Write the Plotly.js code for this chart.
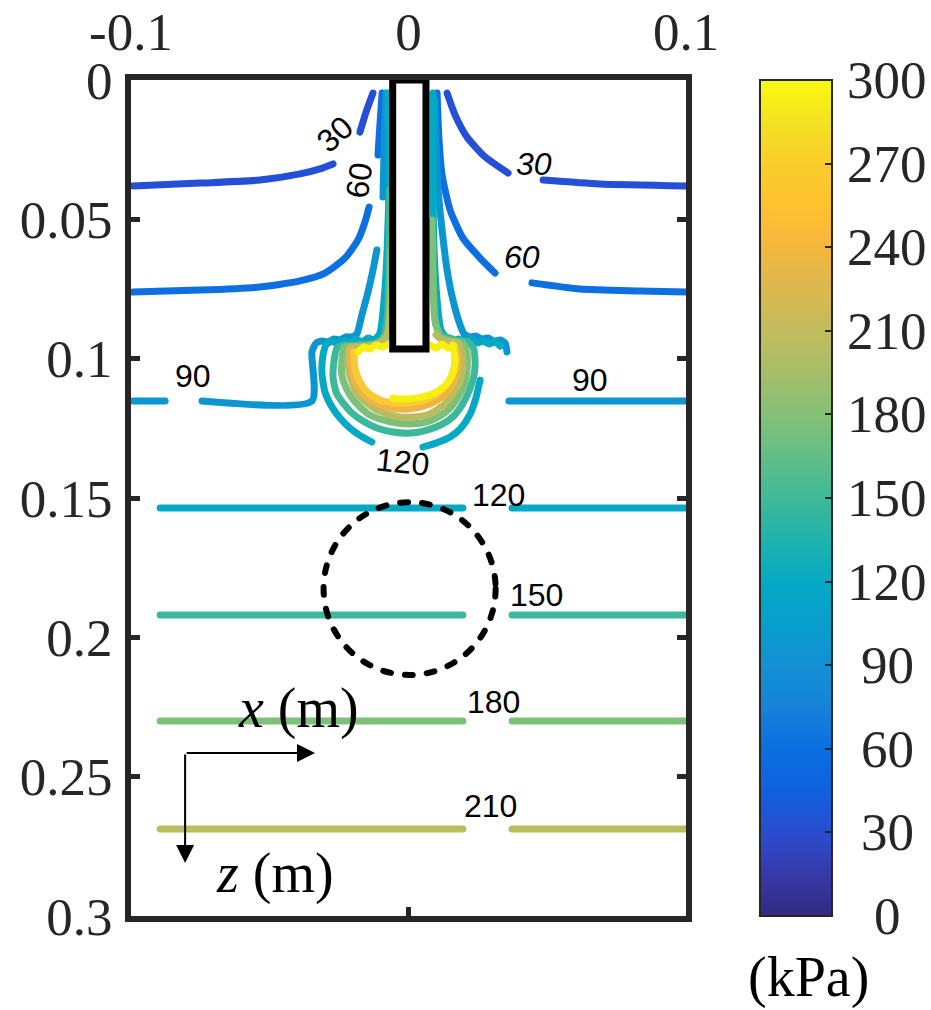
<!DOCTYPE html>
<html>
<head>
<meta charset="utf-8">
<script src="https://cdn.plot.ly/plotly-3.0.1.min.js"></script>
<style>
html,body{margin:0;padding:0;background:#fff;}
#chart .js-line{stroke-linecap:round;stroke-linejoin:round;}
#chart .shapelayer path{stroke-linecap:round;}
</style>
</head>
<body>
<div id="chart" style="width:931px;height:1010px;"></div>
<script>
// ---------- axes / ticks ----------
const xTickVals = [-0.1, 0, 0.1];
const xTickText = ['-0.1', '0', '0.1'];
const zTickVals = [0, 0.05, 0.1, 0.15, 0.2, 0.25, 0.3];
const zTickText = ['0', '0.05', '0.1', '0.15', '0.2', '0.25', '0.3'];
const cbTickVals = [0, 30, 60, 90, 120, 150, 180, 210, 240, 270, 300];
const cbMin = 0, cbMax = 300;

// ---------- contour levels (kPa) ----------
const levels = [30, 60, 90, 120, 150, 180, 210, 240, 270, 300];

// ---------- contour line pieces (x in m, z in m) ----------
// 30 kPa
const c30a_x = [-0.0993, -0.0751, -0.0535, -0.0391, -0.0319, -0.0272];
const c30a_z = [0.0380, 0.0370, 0.0359, 0.0337, 0.0319, 0.0301];
const c30b_x = [-0.0175, -0.0153, -0.0128];
const c30b_z = [0.0187, 0.0115, 0.0047];
const c30c_x = [0.0139, 0.0168, 0.0211, 0.0276, 0.0359];
const c30c_z = [0.0047, 0.0126, 0.0205, 0.0276, 0.0334];
const c30d_x = [0.0485, 0.0690, 0.1];
const c30d_z = [0.0359, 0.0373, 0.0380];
// 60 kPa
const c60a_x = [-0.0993, -0.0751, -0.0535, -0.0391, -0.0301, -0.0229, -0.0182, -0.0157, -0.0142];
const c60a_z = [0.0761, 0.0754, 0.0743, 0.0721, 0.0693, 0.0639, 0.0574, 0.0510, 0.0456];
const c60b_x = [-0.0110, -0.0103, -0.0095];
const c60b_z = [0.0269, 0.0161, 0.0047];
const c60c_x = [0.0103, 0.0110, 0.0121, 0.0150, 0.0196, 0.0258, 0.0312];
const c60c_z = [0.0047, 0.0215, 0.0341, 0.0467, 0.0567, 0.0639, 0.0693];
const c60d_x = [0.0445, 0.0618, 0.0834, 0.1];
const c60d_z = [0.0728, 0.0750, 0.0757, 0.0761];
// 90 kPa
const c90a_x = [-0.0993, -0.0877];
const c90a_z = [0.1152, 0.1152];
const c90b_x = [-0.0744, -0.0348, -0.0348, -0.0333, -0.0312, -0.0290, -0.0268, -0.0247, -0.0225, -0.0204, -0.0186, -0.0168, -0.0146, -0.0128, -0.0114];
const c90b_z = [0.1152, 0.1152, 0.0976, 0.0944, 0.0937, 0.0940, 0.0929, 0.0933, 0.0922, 0.0922, 0.0911, 0.0843, 0.0761, 0.0682, 0.0610];
const c90c_x = [-0.0092, -0.0088, -0.0081];
const c90c_z = [0.0420, 0.0251, 0.0047];
const c90d_x = [0.0095, 0.0099, 0.0106, 0.0121, 0.0139, 0.0160, 0.0186, 0.0200, 0.0222, 0.0243, 0.0265, 0.0286, 0.0308, 0.0330, 0.0348, 0.0355];
const c90d_z = [0.0072, 0.0215, 0.0384, 0.0538, 0.0682, 0.0789, 0.0879, 0.0911, 0.0922, 0.0919, 0.0929, 0.0926, 0.0937, 0.0933, 0.0944, 0.0976];
const c90e_x = [0.0362, 0.1];
const c90e_z = [0.1152, 0.1152];
// 120 kPa
const c120a_x = [-0.0895, 0.0196];
const c120a_z = [0.1536, 0.1536];
const c120b_x = [0.0373, 0.1];
const c120b_z = [0.1536, 0.1536];
const c120c_x = [-0.0074, -0.0070, -0.0077, -0.0088, -0.0103, -0.0124, -0.0146, -0.0168, -0.0189, -0.0211, -0.0232, -0.0254, -0.0276, -0.0297, -0.0308, -0.0312, -0.0301, -0.0276, -0.0247, -0.0211, -0.0171, -0.0132];
const c120c_z = [0.0047, 0.0323, 0.0610, 0.0789, 0.0908, 0.0933, 0.0926, 0.0940, 0.0929, 0.0944, 0.0933, 0.0947, 0.0937, 0.0951, 0.0987, 0.1051, 0.1120, 0.1173, 0.1213, 0.1249, 0.1278, 0.1299];
const c120d_x = [0.0052, 0.0099, 0.0150, 0.0189, 0.0222, 0.0243, 0.0258];
const c120d_z = [0.1317, 0.1303, 0.1281, 0.1249, 0.1199, 0.1141, 0.1077];
const c120e_x = [0.0088, 0.0088, 0.0092, 0.0103, 0.0117, 0.0139, 0.0160, 0.0182, 0.0204, 0.0225, 0.0247, 0.0268, 0.0290, 0.0312, 0.0330];
const c120e_z = [0.0047, 0.0359, 0.0610, 0.0789, 0.0897, 0.0926, 0.0937, 0.0929, 0.0940, 0.0933, 0.0944, 0.0937, 0.0947, 0.0940, 0.0955];
// 150 kPa
const c150a_x = [-0.0895, 0.0196];
const c150a_z = [0.1920, 0.1920];
const c150b_x = [0.0373, 0.1];
const c150b_z = [0.1920, 0.1920];
const c150c_x = [-0.0067, -0.0070, -0.0077, -0.0092, -0.0117, -0.0146, -0.0175, -0.0204, -0.0232, -0.0258, -0.0268, -0.0272, -0.0261, -0.0236, -0.0204, -0.0164, -0.0114, -0.0056, 0.0005, 0.0067, 0.0117, 0.0160, 0.0193, 0.0218, 0.0236, 0.0240, 0.0232, 0.0207, 0.0178, 0.0150, 0.0121, 0.0099, 0.0092, 0.0088];
const c150c_z = [0.0395, 0.0646, 0.0861, 0.0926, 0.0944, 0.0951, 0.0947, 0.0955, 0.0951, 0.0962, 0.1005, 0.1066, 0.1120, 0.1159, 0.1195, 0.1224, 0.1249, 0.1263, 0.1267, 0.1256, 0.1238, 0.1209, 0.1166, 0.1116, 0.1059, 0.1005, 0.0958, 0.0937, 0.0937, 0.0926, 0.0919, 0.0879, 0.0789, 0.0574];
// 180 kPa
const c180a_x = [-0.0895, 0.0196];
const c180a_z = [0.2300, 0.2300];
const c180b_x = [0.0373, 0.1];
const c180b_z = [0.2300, 0.2300];
const c180c_x = [-0.0063, -0.0067, -0.0074, -0.0092, -0.0121, -0.0150, -0.0178, -0.0211, -0.0232, -0.0240, -0.0240, -0.0225, -0.0204, -0.0175, -0.0139, -0.0092, -0.0041, 0.0013, 0.0067, 0.0114, 0.0150, 0.0178, 0.0200, 0.0211, 0.0211, 0.0196, 0.0168, 0.0139, 0.0114, 0.0095, 0.0088, 0.0085];
const c180c_z = [0.0610, 0.0789, 0.0897, 0.0933, 0.0947, 0.0951, 0.0955, 0.0955, 0.0958, 0.1005, 0.1059, 0.1105, 0.1141, 0.1173, 0.1202, 0.1220, 0.1231, 0.1234, 0.1227, 0.1206, 0.1177, 0.1138, 0.1094, 0.1041, 0.0980, 0.0944, 0.0937, 0.0933, 0.0919, 0.0861, 0.0718, 0.0502];
// 210 kPa
const c210a_x = [-0.0895, 0.0196];
const c210a_z = [0.2688, 0.2688];
const c210b_x = [0.0373, 0.1];
const c210b_z = [0.2688, 0.2688];
const c210c_x = [-0.0059, -0.0067, -0.0081, -0.0110, -0.0146, -0.0182, -0.0211, -0.0218, -0.0214, -0.0200, -0.0182, -0.0150, -0.0114, -0.0074, -0.0031, 0.0016, 0.0067, 0.0106, 0.0139, 0.0164, 0.0186, 0.0196, 0.0193, 0.0178, 0.0150, 0.0121, 0.0099];
const c210c_z = [0.0736, 0.0861, 0.0926, 0.0947, 0.0955, 0.0958, 0.0962, 0.1005, 0.1051, 0.1094, 0.1130, 0.1159, 0.1184, 0.1199, 0.1209, 0.1209, 0.1202, 0.1181, 0.1155, 0.1120, 0.1077, 0.1030, 0.0980, 0.0944, 0.0940, 0.0933, 0.0915];
// 240 kPa
const c240a_x = [-0.0207, -0.0207, -0.0193, -0.0168, -0.0132, -0.0085, -0.0031, 0.0023, 0.0077, 0.0121, 0.0153, 0.0171, 0.0178, 0.0175];
const c240a_z = [0.0969, 0.1023, 0.1077, 0.1120, 0.1152, 0.1170, 0.1181, 0.1177, 0.1163, 0.1138, 0.1102, 0.1059, 0.1012, 0.0969];
// 270 kPa
const c270a_x = [-0.0196, -0.0193, -0.0175, -0.0146, -0.0103, -0.0049, 0.0005, 0.0059, 0.0103, 0.0139, 0.0160, 0.0168, 0.0164];
const c270a_z = [0.0976, 0.1033, 0.1084, 0.1123, 0.1148, 0.1159, 0.1159, 0.1148, 0.1127, 0.1091, 0.1048, 0.1005, 0.0969];
// 300 kPa
const c300a_x = [0.0160, 0.0168, 0.0164, 0.0146, 0.0117, 0.0077, 0.0031, -0.0020, -0.0056];
const c300a_z = [0.0951, 0.0998, 0.1041, 0.1080, 0.1109, 0.1130, 0.1141, 0.1145, 0.1141];
const c300b_x = [-0.0182, -0.0160, -0.0139, -0.0117, -0.0095, -0.0067];
const c300b_z = [0.0976, 0.0958, 0.0965, 0.0951, 0.0958, 0.0947];
const c300c_x = [0.0077, 0.0099, 0.0121, 0.0142, 0.0164];
const c300c_z = [0.0951, 0.0962, 0.0947, 0.0962, 0.0955];

// ---------- contour labels ----------
const labelText = ['30', '60', '30', '60', '90', '90', '120', '120', '150', '180', '210'];
const labelX = [-0.0265, -0.0178, 0.0452, 0.0409, -0.0777, 0.0654, -0.0023, 0.0323, 0.0463, 0.0305, 0.0294];
const labelZ = [0.0194, 0.0359, 0.0301, 0.0635, 0.1062, 0.1077, 0.1371, 0.1489, 0.1848, 0.2232, 0.2605];

// ---------- pile, void (circle), axis arrows ----------
const pileX = [-0.0057, 0.0063];
const pileZ = [0, 0.0965];
const voidCenter = [0.0004, 0.1825];
const voidRadius = 0.031;
const arrowOrigin = [-0.0805, 0.2415];
const arrowTipX = -0.0337;
const arrowTipZ = 0.2810;
const xLabelPos = [-0.0395, 0.2254];
const zLabelPos = [-0.0481, 0.2846];

// ---------- styling ----------
const levelColors = {
  30: '#2350d6', 60: '#0e6fe0', 90: '#0b96d2', 120: '#06a9c4', 150: '#3bb99a',
  180: '#7dc07a', 210: '#b9bd5f', 240: '#efb445', 270: '#fbc934', 300: '#f7f00f'
};
const parula = [
  [0, '#332a80'], [0.05, '#363aa8'], [0.1, '#2b4ccf'], [0.15, '#0f61de'], [0.2, '#0b6fe0'],
  [0.25, '#1682d8'], [0.3, '#1291d3'], [0.35, '#089ecc'], [0.4, '#06a9c3'], [0.45, '#1fb3ad'],
  [0.5, '#3fb998'], [0.55, '#62be86'], [0.6, '#85c077'], [0.65, '#a6be69'], [0.7, '#c1bc5e'],
  [0.75, '#dbb84f'], [0.8, '#f4b73d'], [0.85, '#fec131'], [0.9, '#facd2b'], [0.95, '#f3e222'],
  [1, '#f9fb0e']
];
const SERIF = 'Liberation Serif, Times New Roman, serif';
const SANS = 'Liberation Sans, Arial, sans-serif';
const INK = '#262626';

const segments = [
  [30, c30a_x, c30a_z], [30, c30b_x, c30b_z], [30, c30c_x, c30c_z], [30, c30d_x, c30d_z],
  [60, c60a_x, c60a_z], [60, c60b_x, c60b_z], [60, c60c_x, c60c_z], [60, c60d_x, c60d_z],
  [90, c90a_x, c90a_z], [90, c90b_x, c90b_z], [90, c90c_x, c90c_z], [90, c90d_x, c90d_z], [90, c90e_x, c90e_z],
  [120, c120a_x, c120a_z], [120, c120b_x, c120b_z], [120, c120c_x, c120c_z], [120, c120d_x, c120d_z], [120, c120e_x, c120e_z],
  [150, c150a_x, c150a_z], [150, c150b_x, c150b_z], [150, c150c_x, c150c_z],
  [180, c180a_x, c180a_z], [180, c180b_x, c180b_z], [180, c180c_x, c180c_z],
  [210, c210a_x, c210a_z], [210, c210b_x, c210b_z], [210, c210c_x, c210c_z],
  [240, c240a_x, c240a_z],
  [270, c270a_x, c270a_z],
  [300, c300a_x, c300a_z], [300, c300b_x, c300b_z], [300, c300c_x, c300c_z]
];

const traces = segments.map(function (s) {
  return {
    type: 'scatter', mode: 'lines', x: s[1], y: s[2],
    line: {color: levelColors[s[0]], width: 7, shape: 'spline', smoothing: 0.6},
    hoverinfo: 'skip', showlegend: false
  };
});

// colour bar carrier
traces.push({
  type: 'scatter', mode: 'markers', x: [null], y: [null], hoverinfo: 'skip', showlegend: false,
  marker: {
    color: [cbMin], cmin: cbMin, cmax: cbMax, colorscale: parula, showscale: true,
    colorbar: {
      thickness: 72, thicknessmode: 'pixels', len: 836, lenmode: 'pixels',
      x: (760 - 131) / 555, xanchor: 'left', xref: 'paper', xpad: 0,
      y: 0.5, yanchor: 'middle', yref: 'paper', ypad: 0,
      outlinewidth: 2, outlinecolor: INK,
      ticks: 'inside', ticklen: 8, tickwidth: 2, tickcolor: INK,
      tickmode: 'array', tickvals: cbTickVals, showticklabels: false
    }
  }
});

const annotations = [];
labelText.forEach(function (t, i) {
  const rot = [-42, -82, 0, 0, 0, 0, 6, 0, 0, 0, 0][i];
  const ital = [false, false, true, true, false, false, false, false, false, false, false][i];
  annotations.push({
    x: labelX[i], y: labelZ[i], xref: 'x', yref: 'y', text: t, showarrow: false,
    textangle: rot, xanchor: 'center', yanchor: 'middle',
    font: {family: SANS, size: 32, color: '#000', style: ital ? 'italic' : 'normal'}
  });
});
cbTickVals.forEach(function (v) {
  annotations.push({
    x: (887 - 131) / 555, y: (v - cbMin) / (cbMax - cbMin), xref: 'paper', yref: 'paper',
    text: String(v), showarrow: false, xanchor: 'center', yanchor: 'middle',
    font: {family: SERIF, size: 53, color: INK}
  });
});
annotations.push({
  x: (808 - 131) / 555, y: -0.074, xref: 'paper', yref: 'paper', text: '(kPa)', showarrow: false,
  xanchor: 'center', yanchor: 'middle', font: {family: SERIF, size: 56, color: '#000'}
});
annotations.push({
  x: arrowTipX, y: arrowOrigin[1], ax: arrowOrigin[0], ay: arrowOrigin[1],
  xref: 'x', yref: 'y', axref: 'x', ayref: 'y', text: '', showarrow: true,
  arrowhead: 2, arrowsize: 1.8, arrowwidth: 2, arrowcolor: '#000'
});
annotations.push({
  x: arrowOrigin[0], y: arrowTipZ, ax: arrowOrigin[0], ay: arrowOrigin[1],
  xref: 'x', yref: 'y', axref: 'x', ayref: 'y', text: '', showarrow: true,
  arrowhead: 2, arrowsize: 1.8, arrowwidth: 2, arrowcolor: '#000'
});
annotations.push({
  x: xLabelPos[0], y: xLabelPos[1], xref: 'x', yref: 'y', text: '<i>x</i> (m)', showarrow: false,
  xanchor: 'center', yanchor: 'middle', font: {family: SERIF, size: 56, color: '#000'}
});
annotations.push({
  x: zLabelPos[0], y: zLabelPos[1], xref: 'x', yref: 'y', text: '<i>z</i> (m)', showarrow: false,
  xanchor: 'center', yanchor: 'middle', font: {family: SERIF, size: 56, color: '#000'}
});

const shapes = [
  {type: 'rect', xref: 'x', yref: 'y', x0: pileX[0], x1: pileX[1], y0: pileZ[0], y1: pileZ[1],
   fillcolor: '#ffffff', line: {color: '#000', width: 7}, layer: 'above'},
  {type: 'circle', xref: 'x', yref: 'y',
   x0: voidCenter[0] - voidRadius, x1: voidCenter[0] + voidRadius,
   y0: voidCenter[1] - voidRadius, y1: voidCenter[1] + voidRadius,
   line: {color: '#000', width: 6, dash: '8px,14px'}, layer: 'above'}
];

const axisCommon = {
  showgrid: false, zeroline: false, showline: true, linewidth: 6, linecolor: INK,
  mirror: 'ticks', ticks: 'inside', ticklen: 9, tickwidth: 5, tickcolor: INK,
  tickmode: 'array', tickfont: {family: SERIF, size: 53, color: INK}
};

const layout = {
  width: 931, height: 1010,
  margin: {l: 131, r: 245, t: 80, b: 94, pad: 0},
  paper_bgcolor: '#ffffff', plot_bgcolor: '#ffffff', showlegend: false,
  xaxis: Object.assign({}, axisCommon, {
    range: [-0.1, 0.1], side: 'top', tickvals: xTickVals, ticktext: xTickText, ticklabelstandoff: 3
  }),
  yaxis: Object.assign({}, axisCommon, {
    range: [0.3, 0], tickvals: zTickVals, ticktext: zTickText, ticklabelstandoff: 2
  }),
  annotations: annotations,
  shapes: shapes
};

Plotly.newPlot('chart', traces, layout, {staticPlot: true, displayModeBar: false});
</script>
</body>
</html>
